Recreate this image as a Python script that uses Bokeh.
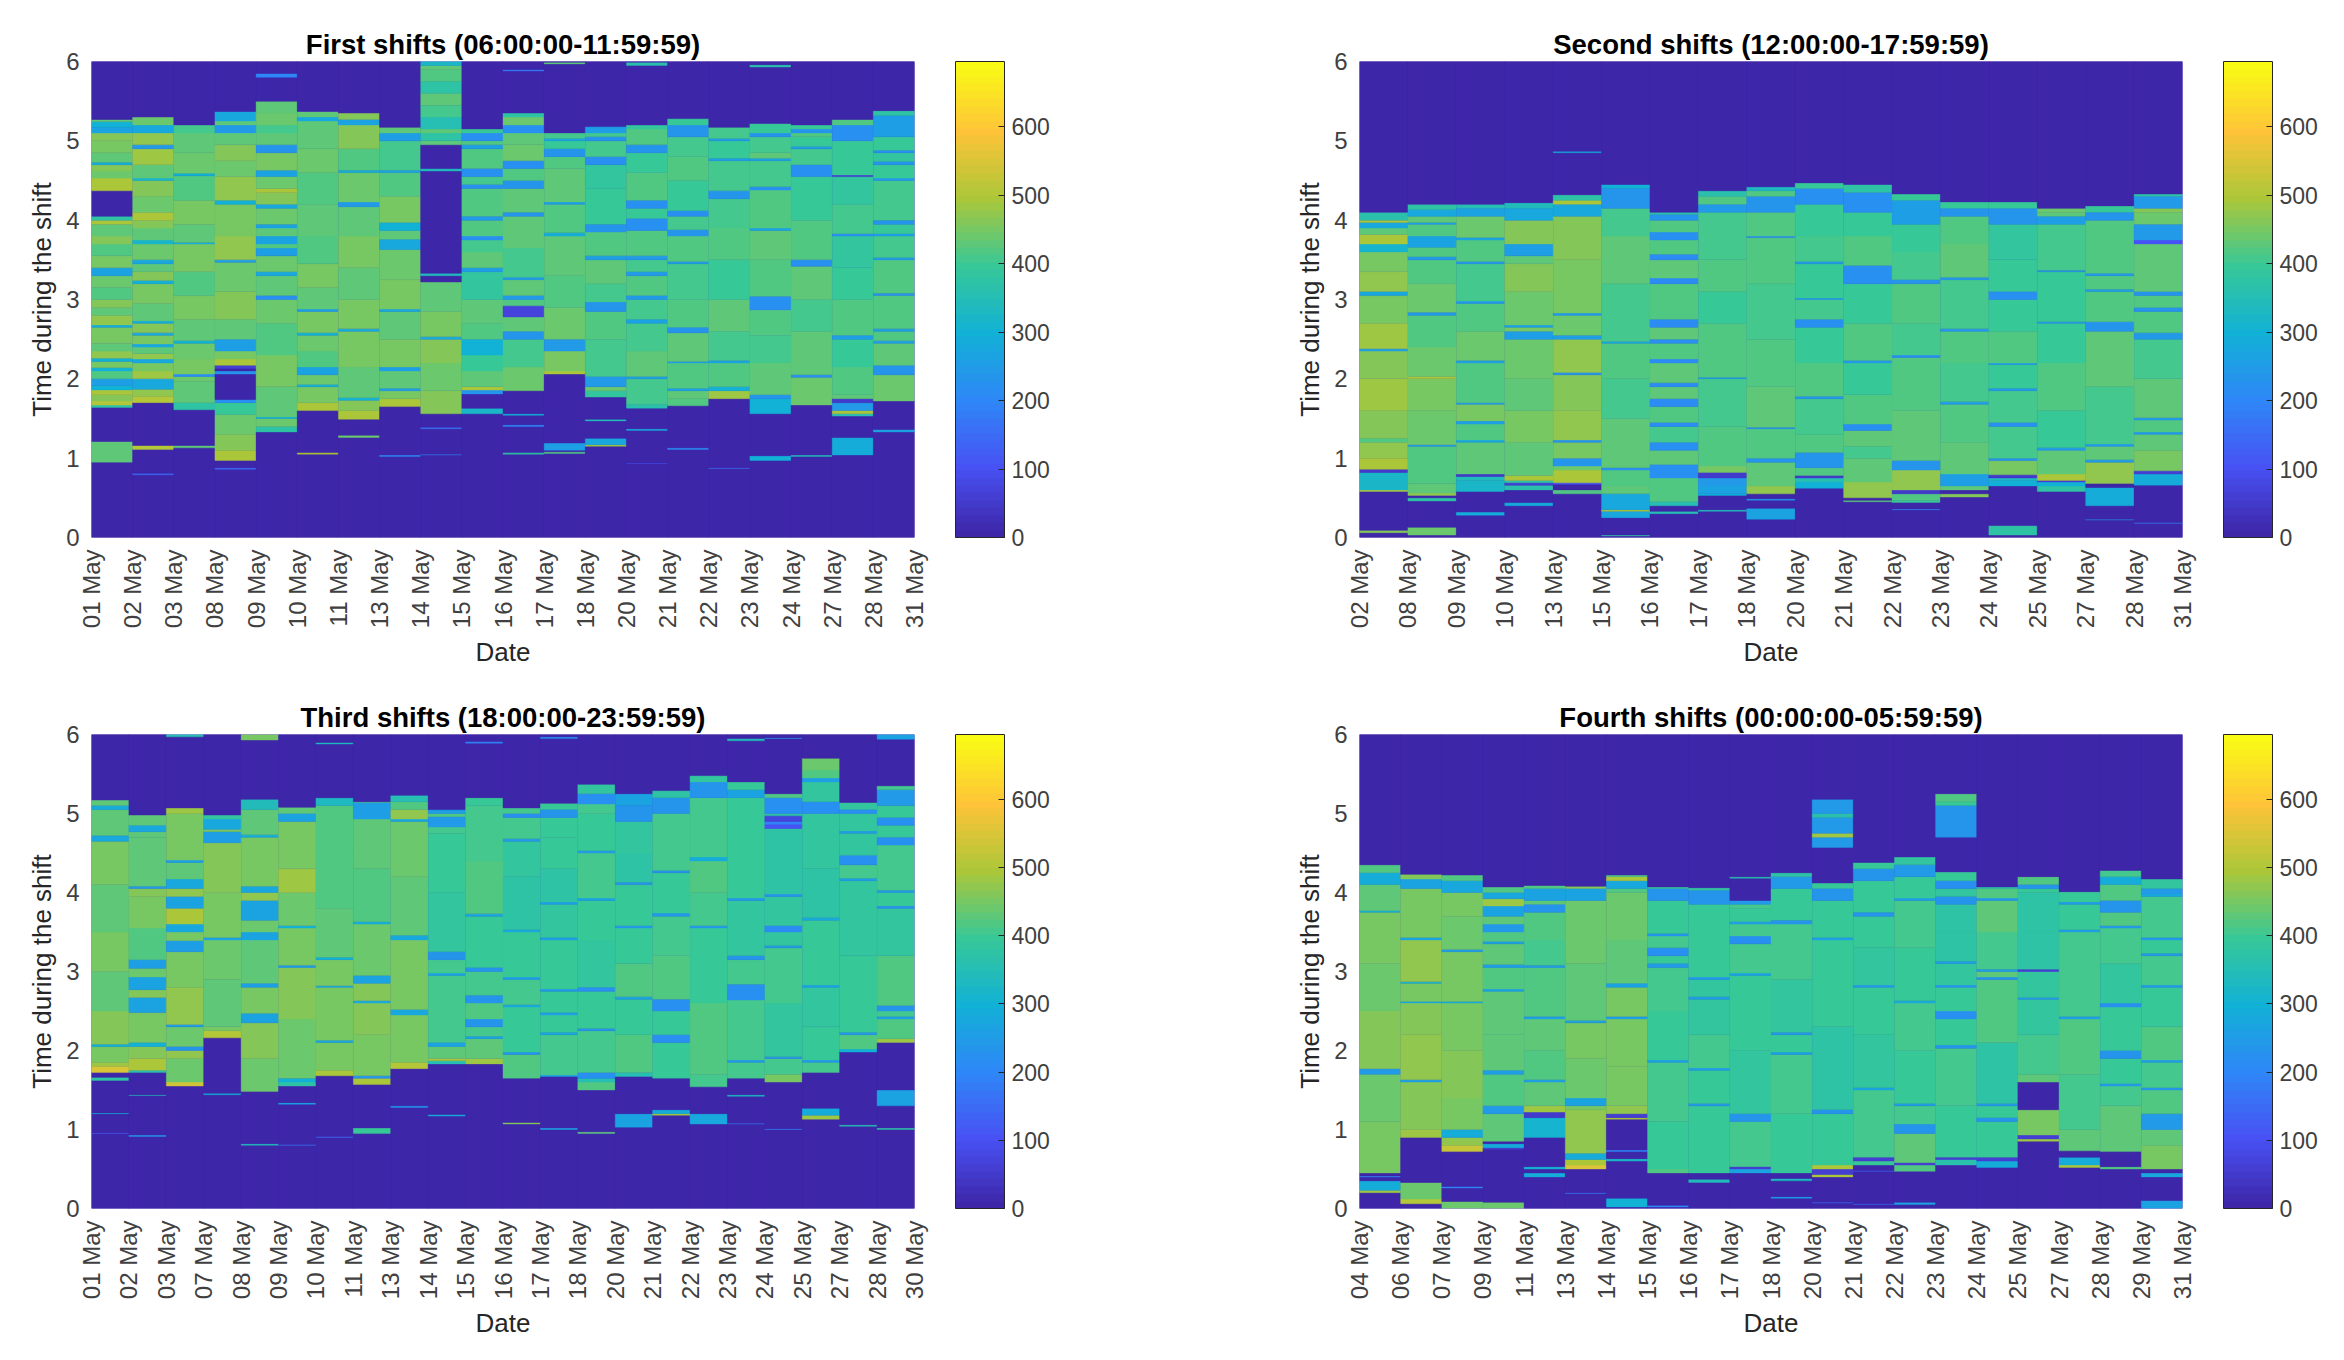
from bokeh.embed import file_html
from bokeh.resources import INLINE
from bokeh.plotting import figure
from bokeh.layouts import column, row
from bokeh.models import ColumnDataSource, LinearColorMapper, ColorBar, FixedTicker, Range1d
import numpy as np

titles = ["First shifts (06:00:00-11:59:59)", "Second shifts (12:00:00-17:59:59)",
          "Third shifts (18:00:00-23:59:59)", "Fourth shifts (00:00:00-05:59:59)"]

dates_first = "01 02 03 08 09 10 11 13 14 15 16 17 18 20 21 22 23 24 27 28 31".split()
dates_second = "02 08 09 10 13 15 16 17 18 20 21 22 23 24 25 27 28 31".split()
dates_third = "01 02 03 07 08 09 10 11 13 14 15 16 17 18 20 21 22 23 24 25 27 28 30".split()
dates_fourth = "04 06 07 09 11 13 14 15 16 17 18 20 21 22 23 24 25 27 28 29 31".split()

# each column: alternating (top of band, value), read upward from 0 h
first = [
 [.95,0,1.21,430,1.64,0,1.67,380,1.72,510,1.8,460,1.86,490,1.92,300,2.0,260,2.1,420,2.14,300,2.22,450,2.26,300,2.35,470,2.45,430,2.65,450,2.68,290,2.8,470,2.9,430,3.0,460,3.15,420,3.3,440,3.4,270,3.55,450,3.7,420,3.8,460,3.95,430,4.0,490,4.05,380,4.37,0,4.53,490,4.62,440,4.7,460,4.73,290,4.85,430,5.0,450,5.1,460,5.17,270,5.24,300,5.27,430],
 [.79,0,.81,150,1.11,0,1.16,510,1.7,0,1.78,510,1.87,470,2.0,280,2.1,480,2.2,450,2.25,280,2.32,470,2.4,430,2.44,280,2.55,450,2.58,280,2.7,460,2.73,290,2.95,430,3.2,450,3.24,300,3.35,460,3.45,430,3.5,280,3.7,440,3.75,320,3.9,430,4.0,460,4.1,490,4.3,440,4.5,460,4.53,320,4.7,430,4.9,480,4.95,240,5.1,470,5.2,280,5.3,440],
 [1.13,0,1.16,430,1.61,0,1.7,370,1.97,430,2.03,440,2.06,220,2.25,450,2.45,440,2.48,300,2.75,430,3.05,450,3.35,420,3.7,450,3.72,290,3.95,430,4.25,450,4.56,420,4.59,300,4.85,440,5.1,430,5.2,410],
 [.86,0,.88,150,.97,0,1.1,490,1.3,460,1.55,440,1.7,400,1.74,220,2.06,0,2.1,230,2.13,0,2.17,60,2.25,490,2.35,450,2.4,260,2.5,260,2.75,430,3.1,460,3.47,440,3.5,260,3.8,470,4.2,450,4.25,300,4.55,470,4.75,440,4.95,460,5.1,430,5.2,240,5.25,430,5.37,280],
 [1.33,0,1.4,380,1.5,440,1.52,300,1.9,430,2.3,450,2.7,420,3.0,440,3.05,220,3.3,430,3.35,280,3.55,440,3.65,250,3.7,420,3.8,270,3.9,430,3.95,270,4.15,440,4.2,280,4.35,460,4.4,490,4.55,440,4.63,270,4.85,450,4.95,230,5.1,430,5.2,410,5.35,440,5.5,430,5.8,0,5.85,200],
 [1.05,0,1.07,490,1.6,0,1.7,490,1.9,450,1.93,300,2.05,440,2.15,270,2.35,420,2.55,440,2.58,300,2.85,450,2.88,250,3.15,430,3.45,450,3.8,420,4.2,430,4.6,420,4.9,440,5.25,430,5.3,280,5.37,430],
 [1.26,0,1.29,440,1.49,0,1.6,490,1.73,460,1.76,300,2.15,430,2.6,450,2.63,280,3.0,450,3.4,430,3.8,450,4.17,430,4.23,240,4.6,440,4.63,290,4.9,420,5.2,460,5.27,270,5.35,460],
 [1.02,0,1.04,200,1.65,0,1.75,490,1.85,450,1.88,260,2.1,430,2.15,260,2.5,450,2.85,430,2.88,280,3.25,450,3.63,440,3.76,280,3.87,430,3.97,300,4.3,450,4.6,420,4.63,270,5.0,410,5.1,250,5.17,430],
 [1.04,0,1.05,200,1.37,0,1.39,170,1.56,0,1.85,460,2.2,440,2.5,460,2.53,280,2.85,450,3.22,430,3.3,0,3.33,340,4.62,0,4.65,340,4.95,0,5.0,430,5.1,380,5.15,430,5.3,350,5.45,410,5.6,430,5.75,380,5.9,420,5.95,430,6.0,320],
 [1.56,0,1.63,320,1.81,0,1.86,230,1.9,490,2.1,430,2.3,400,2.5,300,2.7,420,3.0,430,3.35,390,3.4,260,3.6,430,3.75,410,3.8,220,4.0,420,4.05,240,4.4,420,4.45,220,4.55,410,4.65,220,4.9,420,4.95,260,5.0,420,5.1,220,5.15,400],
 [1.05,0,1.07,380,1.4,0,1.42,200,1.54,0,1.56,300,1.85,0,2.15,440,2.5,410,2.6,230,2.78,430,2.92,70,3.0,420,3.05,240,3.25,430,3.28,260,3.65,410,4.05,430,4.1,230,4.4,430,4.5,230,4.65,420,4.75,220,4.95,440,5.1,430,5.2,220,5.3,440,5.35,370,5.88,0,5.9,170],
 [1.06,0,1.08,420,1.1,0,1.19,250,2.06,0,2.1,490,2.35,450,2.5,240,2.9,440,3.3,420,3.8,430,3.84,290,4.2,420,4.23,250,4.65,430,4.8,420,4.9,230,5.0,400,5.03,280,5.1,410,5.97,0,5.99,430],
 [1.15,0,1.17,480,1.25,280,1.47,0,1.49,340,1.77,0,1.85,390,1.9,440,2.03,240,2.5,410,2.85,420,2.97,230,3.2,410,3.5,430,3.55,260,3.85,420,3.95,230,4.4,400,4.7,390,4.8,220,5.0,410,5.05,230,5.1,410,5.18,260],
 [.93,0,.94,80,1.35,0,1.37,280,1.63,0,1.68,360,2.0,410,2.03,270,2.35,430,2.7,410,2.75,270,3.0,410,3.05,240,3.3,420,3.35,240,3.5,410,3.55,240,3.87,420,4.02,220,4.15,400,4.25,220,4.6,420,4.85,400,4.95,230,5.15,420,5.2,390,5.95,0,5.99,360],
 [1.11,0,1.13,210,1.66,0,1.75,420,1.85,430,1.88,270,2.2,420,2.22,260,2.58,430,2.65,230,3.0,420,3.45,410,3.48,260,3.8,420,3.88,230,4.05,410,4.12,220,4.5,400,4.8,420,5.05,410,5.2,230,5.28,400],
 [.87,0,.88,160,1.75,0,1.85,480,1.9,300,2.2,420,2.23,270,2.6,410,3.0,430,3.5,400,3.9,420,4.27,410,4.37,230,4.75,410,4.78,250,5.0,400,5.03,250,5.17,410],
 [.97,0,1.03,300,1.56,0,1.75,300,1.8,230,2.2,430,2.55,410,2.87,420,3.04,220,3.5,420,3.87,430,3.9,270,4.38,420,4.42,220,4.75,410,4.78,270,4.85,430,5.05,410,5.1,230,5.22,400,5.93,0,5.96,360],
 [1.02,0,1.04,340,1.67,0,2.02,440,2.05,220,2.6,430,3.0,410,3.42,430,3.5,220,4.0,420,4.55,400,4.7,220,4.9,410,4.93,260,5.05,400,5.1,420,5.15,230,5.2,400],
 [1.04,0,1.26,290,1.53,0,1.56,350,1.6,490,1.7,240,1.75,50,1.8,430,2.15,420,2.5,400,2.55,250,3.0,420,3.4,400,3.8,390,3.83,220,4.2,410,4.55,390,4.57,60,5.0,400,5.2,220,5.27,420],
 [1.33,0,1.36,270,1.72,0,2.05,440,2.17,230,2.45,430,2.48,260,2.6,420,2.63,250,3.05,420,3.08,230,3.5,420,3.53,250,3.8,410,3.83,260,3.95,400,4.0,230,4.5,410,4.53,240,4.7,400,4.74,230,4.85,390,4.88,220,5.05,400,5.32,250,5.38,370],
]
second = [
 [.06,0,.09,460,.58,0,.6,490,.82,320,.86,50,1.0,490,1.2,470,1.25,420,1.6,460,2.0,480,2.35,460,2.38,250,2.7,480,3.05,450,3.1,280,3.35,470,3.6,450,3.7,310,3.82,490,3.9,430,3.97,280,4.0,490,4.1,360],
 [.03,0,.13,440,.46,0,.5,380,.53,0,.56,470,.68,430,1.15,420,1.17,230,1.6,440,2.0,450,2.03,490,2.4,440,2.8,420,2.84,240,3.2,440,3.5,420,3.54,240,3.66,420,3.8,270,3.95,420,3.97,250,4.05,430,4.13,280,4.2,380],
 [.28,0,.32,290,.58,0,.72,320,.77,340,.8,50,1.2,430,1.23,280,1.43,420,1.47,250,1.68,450,1.7,240,2.2,420,2.23,260,2.6,440,2.95,420,2.98,240,3.45,410,3.48,240,3.75,420,3.78,270,4.05,440,4.15,270,4.2,350],
 [.4,0,.44,290,.6,0,.66,360,.69,60,.72,380,.78,490,1.2,430,1.6,450,2.0,430,2.5,440,2.6,250,2.65,450,2.68,270,3.1,440,3.45,460,3.55,430,3.7,260,4.0,460,4.15,280,4.22,340],
 [.55,0,.6,420,.67,0,.69,100,.85,490,.9,440,1.0,230,1.2,450,1.23,230,1.6,470,2.05,460,2.08,230,2.5,470,2.55,250,2.8,440,2.83,240,3.5,450,4.05,460,4.2,280,4.25,490,4.32,370,4.85,0,4.87,290],
 [.02,0,.03,380,.25,0,.33,280,.35,490,.55,280,.65,430,.85,420,.88,220,1.5,430,2.0,410,2.45,420,2.47,280,3.2,410,3.8,430,4.15,410,4.4,230,4.45,300],
 [.3,0,.33,350,.4,0,.45,350,.75,420,.92,220,1.1,430,1.2,220,1.4,410,1.45,210,1.65,420,1.75,210,1.9,430,1.95,210,2.2,430,2.25,210,2.45,420,2.5,220,2.65,430,2.75,210,3.2,420,3.27,210,3.5,430,3.57,210,3.75,420,3.85,220,4.0,420,4.07,230,4.1,360],
 [.33,0,.35,340,.53,0,.55,300,.65,270,.75,240,.82,50,.9,450,1.4,420,2.0,410,2.02,270,2.7,420,3.1,400,3.5,420,4.1,410,4.2,240,4.3,420,4.37,360],
 [.23,0,.37,270,.47,0,.49,230,.55,0,.65,470,.95,430,1.0,230,1.37,420,1.39,240,1.9,430,2.5,420,3.2,410,3.78,420,3.8,230,4.1,420,4.3,230,4.37,420,4.42,330],
 [.62,0,.7,300,.75,350,.78,50,.88,420,1.07,230,1.3,420,1.75,410,1.78,240,2.2,420,2.65,400,2.75,220,3.0,410,3.02,240,3.45,400,3.48,250,3.8,410,4.2,400,4.4,220,4.47,400],
 [.45,0,.47,430,.5,0,.7,470,1.0,430,1.15,410,1.35,430,1.43,220,1.8,420,2.2,400,2.23,240,2.7,420,3.2,400,3.43,220,3.8,420,4.1,400,4.35,220,4.45,370],
 [.35,0,.36,200,.44,0,.47,400,.55,420,.6,50,.85,470,.97,230,1.6,430,2.27,420,2.3,220,2.7,410,3.2,420,3.25,230,3.6,410,3.95,400,4.25,250,4.33,400],
 [.51,0,.55,460,.6,0,.65,430,.8,250,1.2,430,1.68,420,1.71,240,2.2,410,2.6,420,2.63,230,3.25,410,3.28,240,3.7,430,4.05,420,4.15,230,4.23,400],
 [.03,0,.15,380,.65,0,.72,300,.75,330,.79,50,.97,450,1.0,230,1.4,410,1.45,220,1.85,410,1.88,240,2.18,400,2.2,240,2.6,420,3.0,400,3.1,220,3.5,400,3.95,390,4.15,230,4.23,400],
 [.58,0,.65,370,.7,300,.72,60,.8,490,1.1,430,1.13,240,1.6,400,2.2,420,2.7,400,2.72,240,3.35,400,3.37,240,3.95,410,4.05,260,4.1,430,4.15,440],
 [.22,0,.23,240,.4,0,.63,290,.68,0,.95,470,.98,240,1.15,430,1.18,240,1.9,410,2.6,430,2.72,230,3.1,420,3.13,250,3.3,420,3.33,240,4.0,420,4.1,230,4.18,400],
 [.18,0,.19,200,.66,0,.8,290,.84,60,1.1,450,1.3,430,1.33,240,1.48,420,1.51,240,2.0,430,2.5,410,2.58,240,2.85,420,2.9,230,3.05,420,3.1,230,3.7,430,3.75,100,3.95,240,4.1,440,4.15,460,4.3,240,4.33,370],
]
third = [
 [.95,0,.96,120,1.2,0,1.21,300,1.62,0,1.66,380,1.72,0,1.8,550,1.85,480,2.05,450,2.08,300,2.5,460,3.0,430,3.5,450,4.1,430,4.65,450,4.72,280,5.05,430,5.1,290,5.17,430],
 [.91,0,.93,230,1.43,0,1.44,340,1.72,0,1.75,360,1.9,490,2.05,460,2.1,300,2.48,450,2.67,270,2.77,460,2.93,270,3.04,440,3.15,260,3.55,420,3.95,450,4.05,460,4.08,240,4.7,430,4.77,430,4.85,280,4.98,430],
 [1.55,0,1.6,540,1.9,440,2.0,470,2.05,230,2.3,440,2.33,250,2.8,470,3.25,450,3.39,260,3.5,450,3.6,280,3.8,490,3.95,270,4.05,470,4.17,280,4.38,430,4.41,250,5.0,450,5.07,480,5.97,0,6.0,350],
 [1.44,0,1.46,300,2.16,0,2.25,500,2.3,450,2.9,430,3.4,440,3.43,270,4.0,450,4.63,460,4.77,250,4.8,450,4.93,280,4.98,390],
 [.8,0,.82,340,1.48,0,1.9,440,2.35,460,2.47,270,2.8,450,2.85,260,3.4,430,3.5,270,3.65,440,3.9,270,4.0,470,4.08,280,4.7,450,4.73,290,5.05,430,5.18,340,5.93,0,6.0,450],
 [.8,0,.81,180,1.32,0,1.34,270,1.55,0,1.6,370,1.65,300,2.4,440,3.05,460,3.08,260,3.55,450,3.58,300,4.0,440,4.3,480,4.9,450,5.0,270,5.08,430],
 [.9,0,.91,150,1.68,0,1.75,490,2.1,450,2.13,280,2.8,450,2.82,280,3.15,450,3.18,300,3.8,430,4.5,420,5.1,420,5.2,330,5.88,0,5.9,330],
 [.95,0,1.02,400,1.57,0,1.65,490,1.68,230,2.2,450,2.6,460,2.63,280,2.85,460,2.95,270,3.6,440,3.63,290,4.3,420,4.93,430,5.14,260,5.15,420],
 [1.28,0,1.3,230,1.77,0,1.85,510,2.45,450,2.52,280,3.4,450,3.46,280,4.2,430,4.9,440,4.93,280,5.05,470,5.15,420,5.23,350],
 [1.17,0,1.19,290,1.83,0,1.87,350,1.9,490,2.05,430,2.1,270,2.95,410,2.98,270,3.15,410,3.25,230,4.0,390,4.75,400,4.83,410,4.96,240,5.0,420,5.05,260],
 [1.83,0,1.9,480,2.15,430,2.18,270,2.3,410,2.4,230,2.6,420,2.7,230,3.0,410,3.05,230,3.7,400,3.73,270,4.4,420,5.1,410,5.2,400,5.89,0,5.91,200],
 [1.07,0,1.09,460,1.65,0,1.95,420,1.98,230,2.55,400,2.58,280,2.9,410,2.93,250,3.5,400,3.53,280,4.2,370,4.65,390,4.68,240,4.95,410,5.0,220,5.07,410],
 [1.0,0,1.02,270,1.67,0,1.69,270,2.2,410,2.23,280,2.45,400,2.48,250,2.75,400,2.78,240,3.4,400,3.43,250,3.85,390,3.88,250,4.3,370,4.7,400,4.95,400,5.05,230,5.13,400,5.95,0,5.97,220],
 [.95,0,.97,430,1.5,0,1.6,420,1.65,350,1.72,220,2.25,410,2.28,230,2.75,400,2.8,220,3.4,390,3.9,400,3.93,270,4.5,410,4.53,240,5.0,400,5.12,410,5.25,220,5.37,390],
 [1.03,0,1.2,270,1.67,0,1.72,350,2.2,420,2.65,400,2.68,270,3.1,420,3.55,400,3.58,240,4.1,400,4.13,230,4.5,380,4.9,390,5.1,230,5.25,270],
 [1.18,0,1.2,490,1.25,290,1.65,0,2.1,400,2.2,220,2.5,400,2.65,220,3.2,420,3.7,410,3.74,240,4.25,400,4.28,230,5.0,410,5.2,230,5.29,370],
 [1.07,0,1.2,280,1.54,0,1.7,410,2.6,420,3.55,400,3.58,240,4.0,410,4.4,420,4.45,290,5.2,410,5.4,230,5.48,390],
 [1.07,0,1.08,180,1.42,0,1.44,330,1.65,0,1.85,410,1.88,240,2.64,410,2.84,220,3.15,410,3.2,230,3.9,390,3.93,240,4.6,400,5.2,400,5.3,270,5.4,400,5.92,0,5.95,340],
 [1.0,0,1.01,200,1.6,0,1.7,450,1.9,410,1.92,230,2.6,390,3.3,410,3.33,250,3.5,390,3.58,210,3.95,390,3.98,230,4.4,370,4.81,380,4.86,100,4.9,190,4.97,70,5.0,380,5.2,220,5.25,420,5.95,0,5.96,250],
 [1.13,0,1.18,480,1.27,290,1.72,0,1.85,410,1.88,240,2.3,400,2.8,390,2.83,270,3.65,400,3.68,280,4.3,370,5.0,390,5.15,220,5.4,390,5.45,260,5.55,420,5.7,440],
 [1.04,0,1.06,350,1.98,0,2.02,300,2.2,420,2.23,240,3.2,400,4.15,390,4.18,260,4.35,410,4.47,220,4.75,390,4.78,250,5.0,390,5.05,220,5.14,390],
 [1.0,0,1.02,380,1.3,0,1.5,270,2.1,0,2.15,480,2.4,420,2.43,260,2.5,410,2.57,230,3.2,420,3.8,390,3.83,220,4.0,400,4.03,250,4.6,410,4.7,220,4.85,400,4.95,220,5.1,400,5.3,240,5.35,410,5.94,0,6.0,270],
]
fourth = [
 [.2,0,.23,480,.35,290,.4,0,.41,200,.45,0,1.1,450,1.7,440,1.77,240,2.5,460,3.1,440,3.75,450,3.77,300,4.1,430,4.25,290,4.35,420],
 [.06,0,.12,510,.33,440,.9,0,1.0,480,1.6,460,1.63,260,2.2,470,2.6,460,2.62,280,2.85,450,2.87,300,3.4,470,3.43,270,4.05,450,4.17,270,4.23,460],
 [.09,440,.26,0,.28,200,.72,0,.8,530,.9,470,1.0,290,1.4,450,2.0,460,2.6,450,2.62,290,3.25,450,3.28,250,3.7,440,4.0,450,4.15,280,4.22,420],
 [.08,440,.75,0,.77,60,.82,290,.85,0,1.2,430,1.3,240,1.7,420,1.75,250,2.2,430,2.75,430,2.78,270,3.05,420,3.09,260,3.35,430,3.38,270,3.5,420,3.6,240,3.7,430,3.83,270,3.92,480,4.0,280,4.07,420],
 [.4,0,.45,290,.5,0,.53,310,.9,0,1.15,310,1.22,50,1.3,480,1.6,430,1.63,250,2.0,420,2.4,430,2.43,260,3.05,420,3.08,250,3.4,410,3.75,420,3.85,230,3.9,430,4.05,270,4.09,420],
 [.19,0,.2,180,.5,0,.55,550,.62,490,.7,290,1.25,470,1.3,450,1.4,270,1.9,440,2.35,450,2.38,270,3.1,430,3.9,440,4.05,270,4.08,460],
 [.02,0,.13,300,.6,0,.63,320,.72,0,.74,200,1.13,0,1.15,490,1.2,60,1.3,470,1.8,450,2.4,450,2.43,260,2.8,450,2.85,270,3.4,430,4.0,440,4.05,420,4.15,280,4.2,490,4.22,420],
 [.02,0,.04,200,.45,0,.5,420,1.1,400,1.85,410,1.88,260,2.5,400,3.05,410,3.1,240,3.2,400,3.3,220,3.45,410,3.48,230,3.9,400,4.05,230,4.07,400],
 [.33,0,.37,340,.45,0,1.3,400,1.33,240,1.75,400,1.78,250,2.2,410,2.65,390,2.68,260,2.9,390,2.93,240,3.4,400,3.85,400,4.03,230,4.06,390],
 [.45,0,.5,270,.53,60,1.1,410,1.2,230,2.0,390,2.95,400,2.98,270,3.35,410,3.45,220,3.6,410,3.63,250,3.8,400,3.85,410,3.9,240,4.18,0,4.2,360],
 [.13,0,.15,250,.35,0,.38,330,.45,0,1.2,400,1.95,410,1.98,260,2.2,400,2.23,240,2.9,390,3.6,410,3.65,230,4.05,400,4.2,240,4.25,380],
 [.07,0,.08,170,.4,0,.43,490,.5,60,.55,490,1.2,400,1.25,230,2.3,380,3.4,400,3.43,250,3.9,400,4.05,230,4.12,400,4.57,0,4.7,240,4.75,480,4.95,240,5.0,360,5.18,240],
 [.05,0,.06,150,.47,0,.48,150,.55,0,.6,400,.65,60,1.5,410,1.53,270,2.2,390,2.8,400,2.83,240,3.3,390,3.7,400,3.75,230,4.15,400,4.3,230,4.38,400],
 [.05,0,.08,270,.47,0,.55,420,.58,60,.95,430,1.07,230,1.3,410,1.33,260,2.0,400,2.6,410,2.63,280,3.3,400,3.9,410,3.93,260,4.2,400,4.35,240,4.45,390],
 [.55,0,.62,360,.65,60,1.3,400,2.03,410,2.07,230,2.4,400,2.5,220,2.8,400,2.83,230,3.1,390,3.13,250,3.5,370,3.85,380,3.95,230,4.05,390,4.15,220,4.26,400,4.7,0,5.1,230,5.15,400,5.25,420],
 [.52,0,.6,290,.65,60,1.1,400,1.15,230,1.3,400,1.33,240,2.1,380,2.9,420,2.93,230,3.0,430,3.03,250,3.5,410,3.9,430,3.93,240,4.05,420,4.07,380],
 [.85,0,.88,480,.93,60,1.25,450,1.6,0,1.7,430,2.2,410,2.65,390,2.67,240,3.0,390,3.03,60,3.5,370,4.0,380,4.05,400,4.1,230,4.2,420],
 [.52,0,.55,490,.65,290,.73,0,1.0,430,1.7,410,2.4,420,2.43,260,3.5,410,3.53,250,3.85,400,3.88,240,4.01,400],
 [.5,0,.53,420,.72,0,1.3,430,1.55,410,1.58,240,1.9,400,2.0,230,2.55,400,2.6,220,3.1,390,3.55,410,3.58,240,3.75,420,3.9,230,4.1,420,4.2,290,4.28,410],
 [.1,270,.4,0,.45,280,.5,0,.8,450,1.0,430,1.2,240,1.5,420,1.53,230,1.85,410,1.88,250,2.3,420,2.8,400,2.83,240,3.2,410,3.23,240,3.4,400,3.43,240,3.95,410,3.98,280,4.05,240,4.17,390],
]

# parula sampled at eight stops, from the colour bar
stops = ["#3E26A8", "#4852F4", "#2E87F7", "#12B1D6", "#37C897", "#ABC739", "#FEC338", "#F9FB15"]
rgb = np.array([[int(s[i:i+2], 16) for i in (1, 3, 5)] for s in stops], float)
t = np.linspace(0, 7, 64)
palette = ["#%02x%02x%02x" % tuple(int(round(np.interp(x, range(8), rgb[:, c]))) for c in range(3)) for x in t]
VMAX = 695
mapper = LinearColorMapper(palette=palette, low=0, high=VMAX)
FONT = "Liberation Sans"


def panel(title, dates, cols, left_border, top_border, frame_h, width, right_border):
    L, R, B, T, V = [], [], [], [], []
    for i, c in enumerate(cols):
        prev = 0.0
        for k in range(0, len(c), 2):
            L.append(i); R.append(i + 1); B.append(prev); T.append(c[k]); V.append(c[k + 1])
            prev = c[k]
        if prev < 6:
            L.append(i); R.append(i + 1); B.append(prev); T.append(6); V.append(0)
    src = ColumnDataSource(dict(l=L, r=R, b=B, t=T, v=V))
    p = figure(width=width, height=top_border + frame_h + 143, frame_width=823, frame_height=frame_h,
               min_border_left=left_border, min_border_right=right_border, min_border_top=top_border, min_border_bottom=143,
               output_backend="svg", toolbar_location=None, title=title,
               x_range=Range1d(0, len(cols)), y_range=Range1d(0, 6),
               x_axis_label="Date", y_axis_label="Time during the shift")
    p.quad(left="l", right="r", bottom="b", top="t", source=src,
           fill_color={"field": "v", "transform": mapper},
           line_color={"field": "v", "transform": mapper}, line_width=0.4)
    p.grid.visible = False
    p.outline_line_color = None
    p.background_fill_color = palette[0]
    p.title.align = "center"
    p.title.text_font = FONT
    p.title.text_font_size = "27.5px"
    p.title.text_color = "#000000"
    p.title.text_font_style = "bold"
    p.title.standoff = 4
    p.xaxis.ticker = FixedTicker(ticks=list(range(len(dates))))
    p.xaxis.major_label_overrides = {i: d + " May" for i, d in enumerate(dates)}
    p.xaxis.major_label_orientation = np.pi / 2
    p.yaxis.ticker = FixedTicker(ticks=list(range(7)))
    for ax in (p.xaxis[0], p.yaxis[0]):
        ax.axis_line_color = None
        ax.major_tick_line_color = None
        ax.minor_tick_line_color = None
        ax.major_label_text_font = FONT
        ax.major_label_text_font_size = "24px"
        ax.major_label_text_color = "#404040"
        ax.axis_label_text_font = FONT
        ax.axis_label_text_font_size = "26px"
        ax.axis_label_text_font_style = "normal"
        ax.axis_label_text_color = "#262626"
        ax.major_label_standoff = 6
        ax.axis_label_standoff = 6
    cb = ColorBar(color_mapper=mapper, width=49, height=frame_h, location=(41, 0), padding=0, margin=0,
                  ticker=FixedTicker(ticks=[0, 100, 200, 300, 400, 500, 600]),
                  major_tick_in=6, major_tick_out=0, major_tick_line_color="#262626",
                  minor_tick_line_color=None, bar_line_color="#262626", bar_line_width=1,
                  border_line_color=None, background_fill_color=None,
                  major_label_text_font=FONT, major_label_text_font_size="23px",
                  major_label_text_color="#404040", label_standoff=7)
    p.add_layout(cb, "right")
    return p


p1 = panel(titles[0], dates_first, first, 91, 61, 476, 1276, 362)
p2 = panel(titles[1], dates_second, second, 83, 61, 476, 1054, 148)
p3 = panel(titles[2], dates_third, third, 91, 54, 474, 1276, 362)
p4 = panel(titles[3], dates_fourth, fourth, 83, 54, 474, 1054, 148)
layout = column(row(p1, p2, spacing=0), row(p3, p4, spacing=0), spacing=0)
open("out.html", "w").write(file_html(layout, INLINE))
